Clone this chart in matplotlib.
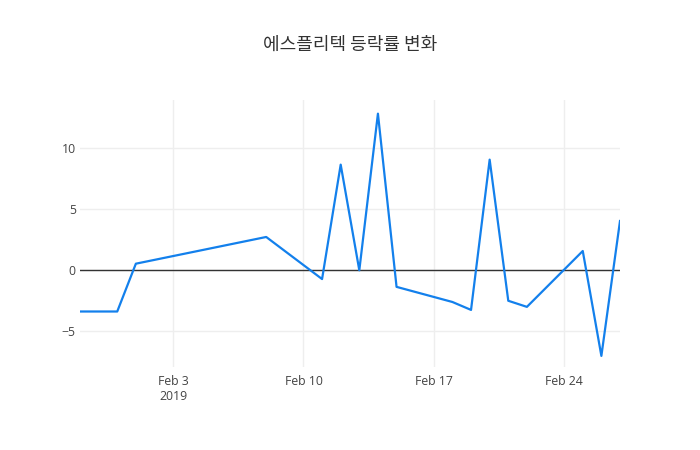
import matplotlib
matplotlib.use("Agg")
import matplotlib.pyplot as plt
from datetime import datetime

# Daily change (%).
dates = ["2019-01-29", "2019-01-31", "2019-02-01", "2019-02-08", "2019-02-11",
         "2019-02-12", "2019-02-13", "2019-02-14", "2019-02-15", "2019-02-18",
         "2019-02-19", "2019-02-20", "2019-02-21", "2019-02-22", "2019-02-25",
         "2019-02-26", "2019-02-27"]
changes = [-3.38, -3.38, 0.54, 2.73, -0.72,
           8.66, 0.0, 12.84, -1.36, -2.6,
           -3.25, 9.07, -2.5, -3.0, 1.58,
           -7.02, 4.04]
title = "에스플리텍 등락률 변화"

x = [datetime.strptime(d, "%Y-%m-%d") for d in dates]

plt.rcParams['font.family'] = ['Open Sans', 'Noto Sans CJK KR', 'DejaVu Sans']
text_color = "#444444"

fig = plt.figure(figsize=(7, 4.5), dpi=100)
ax = fig.add_axes([80 / 700, 1 - 367 / 450, 540 / 700, 267 / 450])

ax.plot(x, changes, color="#1380ec", linewidth=1.6, zorder=3)
ax.axhline(0, color="#333333", linewidth=1, zorder=2)

ax.set_xlim(x[0], x[-1])
ax.set_ylim(-7.93, 13.96)
ax.set_yticks([-5, 0, 5, 10])

ticks = [datetime(2019, 2, 3), datetime(2019, 2, 10), datetime(2019, 2, 17), datetime(2019, 2, 24)]
ax.set_xticks(ticks)
ax.set_xticklabels(["Feb 3\n2019", "Feb 10", "Feb 17", "Feb 24"])

ax.grid(True, color="#eeeeee", linewidth=1, zorder=0)
for s in ax.spines.values():
    s.set_visible(False)
ax.tick_params(length=0, colors=text_color, labelsize=8.8)
ax.tick_params(axis="x", pad=6)
ax.tick_params(axis="y", pad=3)

fig.text(0.5, 1 - 45 / 450, title, ha="center", va="center",
         fontsize=13, color="#333333", family=['Noto Sans CJK KR', 'DejaVu Sans'])

fig.savefig("out.png", dpi=100)
